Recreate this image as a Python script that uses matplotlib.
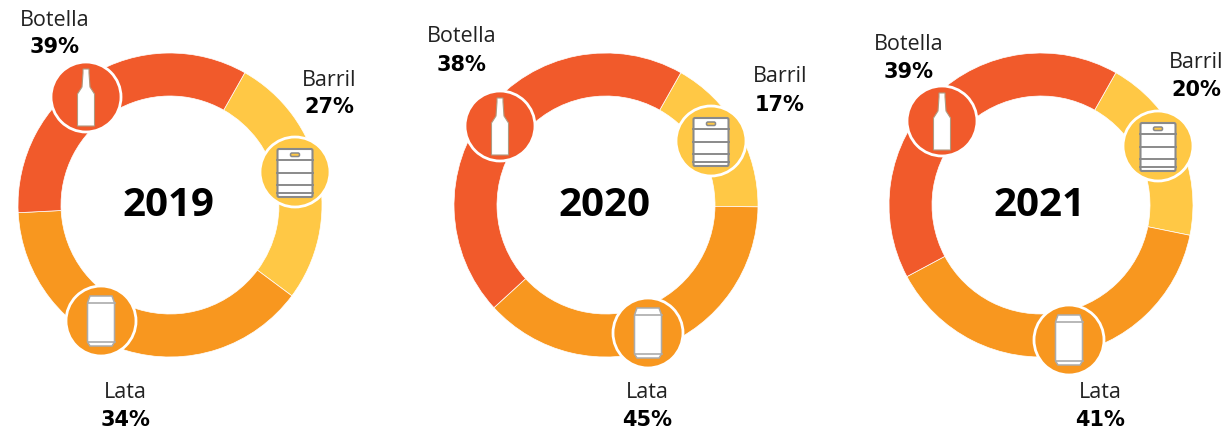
import matplotlib
matplotlib.use('Agg')
import matplotlib.pyplot as plt
from matplotlib.patches import Circle, Polygon, FancyBboxPatch

W, H = 1229, 434

years = ['2019', '2020', '2021']
botella = [39, 38, 39]
barril = [27, 17, 20]
lata = [34, 45, 41]

# ring centres, pixels from the top left of the picture
ring_x = [170, 606, 1041]
ring_y = 205

red = '#F15A2B'
yellow = '#FFC845'
orange = '#F8971F'

# badge and label spots per year (x, y of the picture)
bottle_pos = [(86, 97), (500, 126), (942, 121)]
keg_pos = [(295, 172), (711, 141), (1158, 146)]
can_pos = [(101, 321), (648, 333), (1069, 340)]
botella_txt = [(55, 20, 47), (462, 37, 65), (909, 44, 72)]
barril_txt = [(329, 80, 107), (780, 77, 105), (1196, 62, 90)]
lata_txt = [(125, 392, 420), (647, 392, 420), (1100, 392, 420)]

plt.rcParams['font.family'] = ['Open Sans', 'DejaVu Sans']

fig = plt.figure(figsize=(W / 100, H / 100), dpi=100)
ax = fig.add_axes([0, 0, 1, 1])


def flip(y):
    return H - y


def badge(x, y, color):
    ax.add_patch(Circle((x, flip(y)), 35, fc=color, ec='white', lw=2, zorder=3))


def draw_shape(x, y, pts, fc, ec, lw=1.2):
    # pts are offsets from badge centre, y pointing down
    xy = [(x + a, flip(y + b)) for a, b in pts]
    ax.add_patch(Polygon(xy, closed=True, fc=fc, ec=ec, lw=lw, zorder=4))


def bottle(x, y):
    pts = [(-3, -28), (3, -28), (3, -24), (4, -10), (8.5, -3), (8.5, 29),
           (-8.5, 29), (-8.5, -3), (-4, -10), (-3, -24)]
    draw_shape(x, y, pts, 'white', '#B09A80', 0.8)


def keg(x, y):
    gray = '#8A8A8A'
    ax.add_patch(FancyBboxPatch((x - 17.5, flip(y + 25)), 35, 48,
                                boxstyle='round,pad=0,rounding_size=1.5',
                                fc='white', ec=gray, lw=1.5, zorder=4))
    for b in [-12, 1, 12.5, 21]:
        ax.plot([x - 18, x + 18], [flip(y + b)] * 2, color=gray, lw=1.4, zorder=5)
    ax.add_patch(FancyBboxPatch((x - 4.5, flip(y - 15.5)), 9, 3.5,
                                boxstyle='round,pad=0,rounding_size=1.5',
                                fc=yellow, ec=gray, lw=1.1, zorder=5))


def can(x, y):
    gray = '#ABABAB'
    pts = [(-11, -25), (11, -25), (13.5, -18), (13.5, 21), (11, 25), (-11, 25),
           (-13.5, 21), (-13.5, -18)]
    draw_shape(x, y, pts, 'white', gray, 1.1)
    for b in [-18, 21]:
        ax.plot([x - 13.5, x + 13.5], [flip(y + b)] * 2, color=gray, lw=1.2, zorder=5)


def label(pos, name, pct):
    x, y1, y2 = pos
    ax.text(x, flip(y1), name, ha='center', va='center', fontsize=15.5,
            fontweight='normal', color='#222222', zorder=6)
    ax.text(x, flip(y2), str(pct) + '%', ha='center', va='center', fontsize=15,
            family='DejaVu Sans', fontweight='bold', color='black', zorder=6)


for i in range(3):
    # the arcs of the original run barril, orange, red clockwise from about 60 deg,
    # and the orange arc has the size of the Botella number and the red one of Lata
    ax.pie([barril[i], botella[i], lata[i]], colors=[yellow, orange, red],
           center=(ring_x[i], flip(ring_y)), radius=152, startangle=60.5,
           counterclock=False,
           wedgeprops=dict(width=43, edgecolor='white', linewidth=0.5))
    ax.text(ring_x[i] - 2, flip(205), years[i], ha='center', va='center',
            fontsize=29, fontweight='bold', color='black', zorder=6)

    badge(*bottle_pos[i], red)
    bottle(*bottle_pos[i])
    badge(*keg_pos[i], yellow)
    keg(*keg_pos[i])
    badge(*can_pos[i], orange)
    can(*can_pos[i])

    label(botella_txt[i], 'Botella', botella[i])
    label(barril_txt[i], 'Barril', barril[i])
    label(lata_txt[i], 'Lata', lata[i])

ax.set_xlim(0, W)
ax.set_ylim(0, H)
ax.axis('off')

fig.savefig('out.png', dpi=100, facecolor='white')
